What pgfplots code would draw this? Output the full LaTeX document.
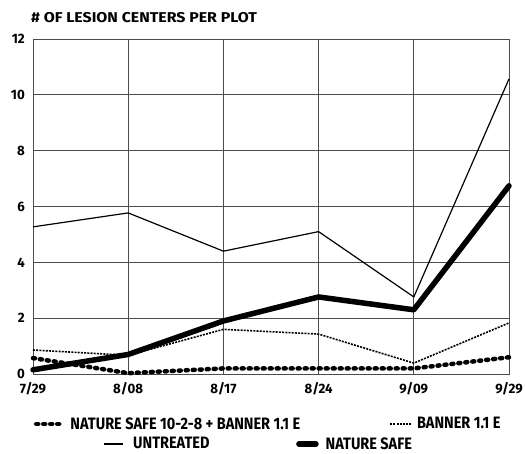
\documentclass[border=0pt]{standalone}
\usepackage{pgfplots}
\pgfplotsset{compat=1.18}
\usepackage{graphicx}
\usepackage{fontspec}
\setmainfont{Fira Sans}
\newfontfamily\widef{Fira Sans}[FakeStretch=1.12]
\newfontfamily\narrf{Fira Sans}[FakeStretch=0.88]
\newcommand{\tf}{\widef\fontsize{14.2}{16}\selectfont\bfseries}
\newcommand{\kf}{\widef\fontsize{13.6}{16}\selectfont\bfseries}
\newcommand{\lf}{\narrf\fontsize{16.5}{18}\selectfont\bfseries}
\newcommand{\sq}[1]{\scalebox{0.87}[1]{#1}}
\begin{document}
\begin{tikzpicture}
\pgfplotsset{
  base/.style={
    width=476pt, height=335pt, scale only axis,
    xmin=0, xmax=5, ymin=0, ymax=12,
    clip=false,
  },
  nsb/.style={black, line width=4.5pt, line cap=round, dash pattern=on 2pt off 5pt},
  ban/.style={black, line width=1.6pt, dash pattern=on 2pt off 1.2pt},
  unt/.style={black, line width=1.2pt},
  ns/.style={black, line width=5.5pt, line join=round},
  img28/.style={legend image code/.code={\draw[##1] (2pt,0pt) -- (26pt,0pt);}},
  img22/.style={legend image code/.code={\draw[##1] (0pt,0pt) -- (22pt,0pt);}},
  img19/.style={legend image code/.code={\draw[##1] (0pt,0pt) -- (19pt,0pt);}},
  img23/.style={legend image code/.code={\draw[##1] (3pt,0pt) -- (20pt,0pt);}},
}
\begin{axis}[base,
  xtick={0,1,2,3,4,5},
  xticklabels={\sq{7/29},\sq{8/08},\sq{8/17},\sq{8/24},\sq{9/09},\sq{9/29}},
  ytick={0,2,4,6,8,10,12},
  yticklabel={\sq{\pgfmathprintnumber{\tick}}},
  grid=major,
  major grid style={black!70, line width=0.8pt},
  axis line style={black!70, line width=0.8pt},
  tick style={draw=none},
  tick label style={font=\kf, inner sep=0pt},
  /pgf/number format/assume math mode=true,
  yticklabel style={anchor=east, xshift=-8pt},
  xticklabel style={anchor=north, yshift=-8pt},
  legend columns=2,
  legend style={draw=none, fill=none, inner sep=0pt, outer sep=0pt,
    nodes={inner sep=0pt, outer sep=0pt},
    column sep=0pt,
    at={([xshift=1pt,yshift=-50pt]rel axis cs:0,0)}, anchor=west,
    font=\lf},
]
\coordinate (O) at (rel axis cs:0,0);
\node[anchor=base west, inner sep=0pt, font=\tf] at ([xshift=-2pt,yshift=17pt]rel axis cs:0,1) {\# OF LESION CENTERS PER PLOT};
\addplot[nsb, img28]
  coordinates {(0,0.57) (1,0.03) (2,0.2) (3,0.2) (4,0.2) (5,0.6)};
\addlegendentry{\makebox[327pt][l]{\hspace{8pt}NATURE SAFE 10-2-8 + BANNER 1.1 E}}
\addplot[ban, img22]
  coordinates {(0,0.86) (1,0.67) (2,1.6) (3,1.43) (4,0.39) (5,1.83)};
\addlegendentry{\hspace{4pt}BANNER 1.1 E}
\end{axis}
\begin{axis}[base, hide axis,
  legend columns=2,
  legend style={draw=none, fill=none, inner sep=0pt, outer sep=0pt,
    nodes={inner sep=0pt, outer sep=0pt},
    column sep=0pt,
    at={([xshift=70pt,yshift=-70pt]rel axis cs:0,0)}, anchor=west,
    font=\lf},
]
\addplot[unt, img19]
  coordinates {(0,5.27) (1,5.77) (2,4.4) (3,5.1) (4,2.76) (5,10.57)};
\addlegendentry{\makebox[173pt][l]{\hspace{10pt}UNTREATED}}
\addplot[ns, line cap=round, img23]
  coordinates {(0,0.15) (1,0.7) (2,1.9) (3,2.76) (4,2.3) (5,6.74)};
\addlegendentry{\hspace{7pt}NATURE SAFE}
\end{axis}
\path (O) ++(-33pt,-79pt) rectangle ++(525pt,453pt);
\end{tikzpicture}
\end{document}
